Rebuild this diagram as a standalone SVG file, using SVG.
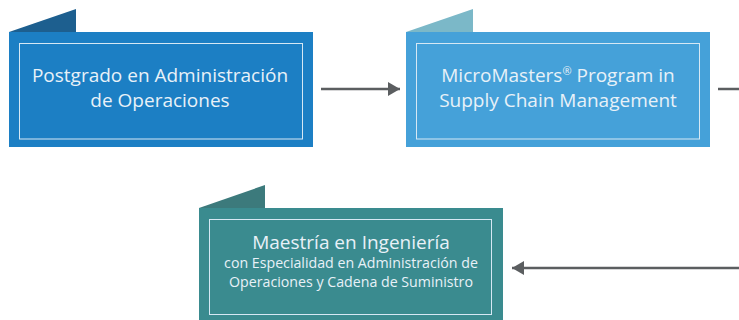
<svg xmlns="http://www.w3.org/2000/svg" width="739" height="320" viewBox="0 0 739 320">
<defs>
<style>
.inner{fill:none;stroke:#d6e8f4;stroke-width:1}
.t{font-family:"Open Sans","Noto Sans",sans-serif;fill:#e8f1f8;text-anchor:middle}
.big{font-size:19px}
.small{font-size:14.2px}
.conn{stroke:#5b5e60;stroke-width:2.5;fill:none}
</style>
<marker id="ah" viewBox="0 0 12 14" refX="12" refY="7" markerWidth="12" markerHeight="14" markerUnits="userSpaceOnUse" orient="auto">
<path d="M0,0 L12,7 L0,14 Z" fill="#5b5e60"/>
</marker>
</defs>
<rect width="739" height="320" fill="#ffffff"/>
<g id="node1">
<polygon points="9,32 76,9 76,32" fill="#1d5f8f"/>
<rect x="9" y="32" width="304" height="115" fill="#1c7fc4"/>
<rect class="inner" x="19.5" y="43.5" width="283" height="95.5"/>
<text class="t big" x="160" y="82">Postgrado en Administración</text>
<text class="t big" x="160" y="107">de Operaciones</text>
</g>
<g id="node2">
<polygon points="406,32 473,9 473,32" fill="#7bb8c8"/>
<rect x="406" y="32" width="304" height="115" fill="#45a1d9"/>
<rect class="inner" x="416.5" y="43.5" width="283" height="95.5"/>
<text class="t big" x="558" y="82">MicroMasters<tspan font-size="11" dy="-7">®</tspan><tspan dy="7"> Program in</tspan></text>
<text class="t big" x="558" y="107">Supply Chain Management</text>
</g>
<g id="node3">
<polygon points="199,208 265,185 265,208" fill="#3c7a7c"/>
<rect x="199" y="208" width="304" height="112" fill="#3a8b8f"/>
<rect class="inner" x="209.5" y="219.5" width="282" height="95"/>
<text class="t big" x="351" y="249">Maestría en Ingeniería</text>
<text class="t small" x="351" y="268">con Especialidad en Administración de</text>
<text class="t small" x="351" y="287">Operaciones y Cadena de Suministro</text>
</g>
<g id="connectors">
<line class="conn" x1="321" y1="89" x2="400" y2="89" marker-end="url(#ah)"/>
<line class="conn" x1="718" y1="89" x2="739" y2="89"/>
<line class="conn" x1="739" y1="268" x2="512" y2="268" marker-end="url(#ah)"/>
</g>
</svg>
